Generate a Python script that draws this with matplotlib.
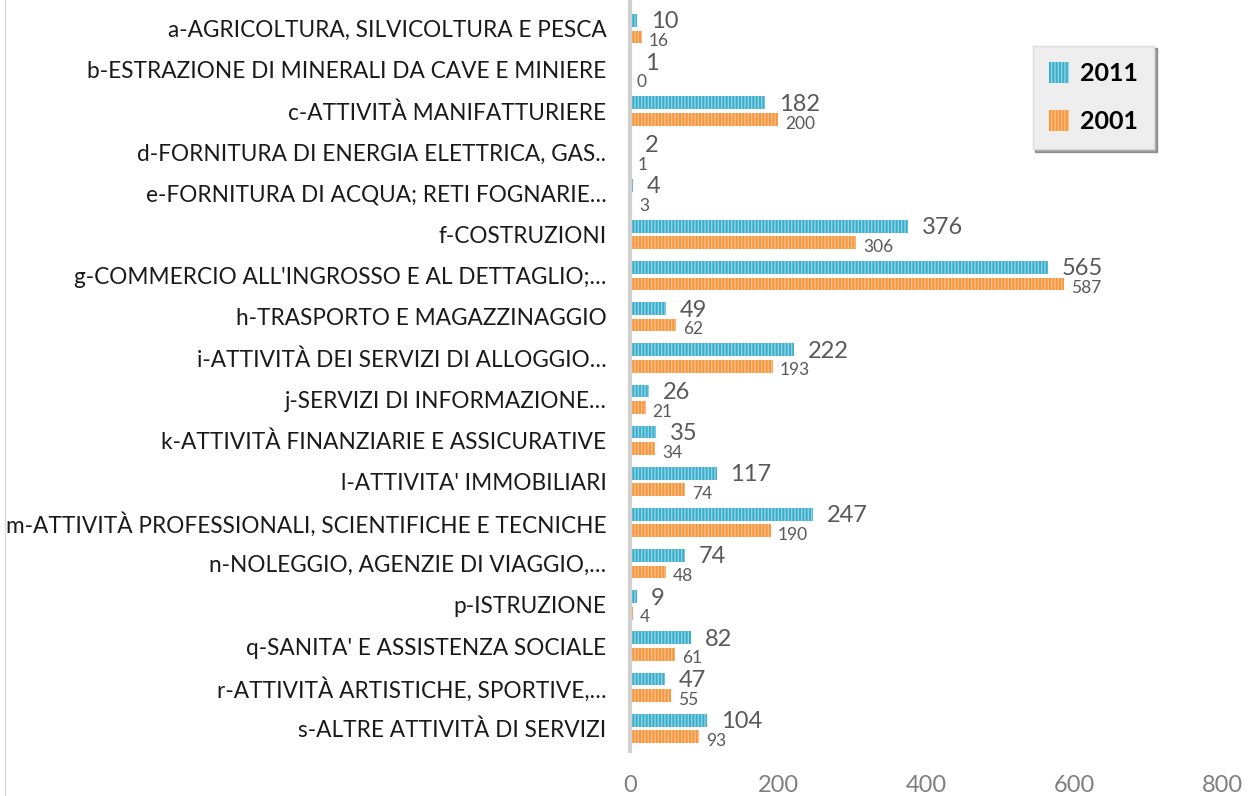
import matplotlib.pyplot as plt
from matplotlib.lines import Line2D
import numpy as np

plt.rcParams['font.family'] = ['Lato', 'DejaVu Sans']
plt.rcParams['hatch.linewidth'] = 1.0

categories = [
    "a-AGRICOLTURA, SILVICOLTURA E PESCA",
    "b-ESTRAZIONE DI MINERALI DA CAVE E MINIERE",
    "c-ATTIVITÀ MANIFATTURIERE",
    "d-FORNITURA DI ENERGIA ELETTRICA, GAS..",
    "e-FORNITURA DI ACQUA; RETI FOGNARIE…",
    "f-COSTRUZIONI",
    "g-COMMERCIO ALL'INGROSSO E AL DETTAGLIO;…",
    "h-TRASPORTO E MAGAZZINAGGIO",
    "i-ATTIVITÀ DEI SERVIZI DI ALLOGGIO…",
    "j-SERVIZI DI INFORMAZIONE…",
    "k-ATTIVITÀ FINANZIARIE E ASSICURATIVE",
    "l-ATTIVITA' IMMOBILIARI",
    "m-ATTIVITÀ PROFESSIONALI, SCIENTIFICHE E TECNICHE",
    "n-NOLEGGIO, AGENZIE DI VIAGGIO,…",
    "p-ISTRUZIONE",
    "q-SANITA' E ASSISTENZA SOCIALE",
    "r-ATTIVITÀ ARTISTICHE, SPORTIVE,…",
    "s-ALTRE ATTIVITÀ DI SERVIZI",
]
v2011 = [10, 1, 182, 2, 4, 376, 565, 49, 222, 26, 35, 117, 247, 74, 9, 82, 47, 104]
v2001 = [16, 0, 200, 1, 3, 306, 587, 62, 193, 21, 34, 74, 190, 48, 4, 61, 55, 93]

c2011 = '#3aaecb'
c2001 = '#f7953a'

fig = plt.figure(figsize=(12.55, 7.96), dpi=100)
ax = fig.add_axes([630 / 1255, 45 / 796, 592 / 1255, 751 / 796])

y = np.arange(len(categories))
h = 0.31
ax.barh(y - 0.2, v2011, height=h, color=c2011, edgecolor='#8fd3e4',
        hatch='|||||', linewidth=0, label='2011')
ax.barh(y + 0.2, v2001, height=h, color=c2001, edgecolor='#fbc08a',
        hatch='|||||', linewidth=0, label='2001')

# etichette valori
for yi, v in zip(y, v2011):
    ax.annotate(str(v), (v, yi - 0.2), xytext=(10, -1), textcoords='offset points',
                ha='left', va='center', fontsize=17, color='#595959')
for yi, v in zip(y, v2001):
    ax.annotate(str(v), (v, yi + 0.2), xytext=(5, -3), textcoords='offset points',
                ha='left', va='center', fontsize=12.5, color='#595959')

ax.set_xlim(0, 800)
ax.set_ylim(len(categories) - 0.45, -0.7)
ax.set_xticks([0, 200, 400, 600, 800])
ax.set_yticks(y)
ax.set_yticklabels(categories, fontsize=16.3, color='#1a1a1a')
ax.tick_params(axis='y', length=0, pad=17)
ax.tick_params(axis='x', length=0, labelsize=17, labelcolor='#7f7f7f', pad=17)
for s in ['top', 'right', 'bottom']:
    ax.spines[s].set_visible(False)
ax.spines['left'].set_color('#d0d0d0')
ax.spines['left'].set_linewidth(3)

leg = ax.legend(loc='upper right', bbox_to_anchor=(0.907, 0.956),
                prop={'weight': 'bold', 'size': 18}, frameon=True, fancybox=False,
                shadow=True, handlelength=0.8, handleheight=0.9, labelspacing=1.0,
                borderpad=0.65, handletextpad=0.45)
leg.get_frame().set_facecolor('#eeeeee')
leg.get_frame().set_edgecolor('#dddddd')

fig.add_artist(Line2D([5 / 1255, 5 / 1255], [0, 1], color='#d9d9d9', lw=1))

fig.savefig('out.png', dpi=100)
